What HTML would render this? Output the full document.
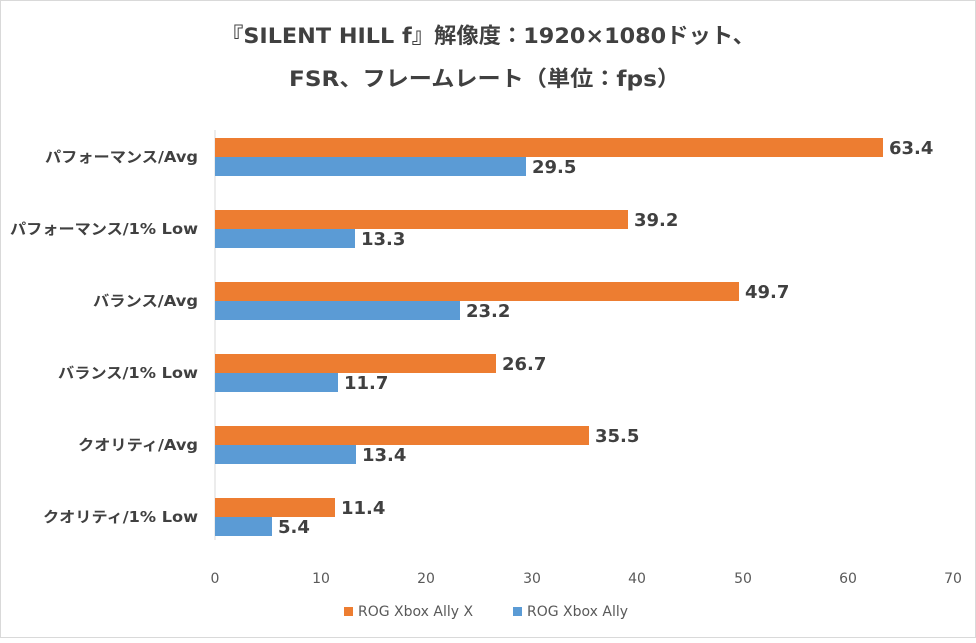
<!DOCTYPE html>
<html><head><meta charset="utf-8"><style>
body{margin:0;background:#fff;}
svg text{font-family:"DejaVu Sans","Noto Sans CJK JP",sans-serif;}
</style></head><body>
<svg width="976" height="638" viewBox="0 0 976 638" xmlns="http://www.w3.org/2000/svg">
<rect x="0.5" y="0.5" width="975" height="637" fill="#fff" stroke="#d9d9d9"/>
<text x="221" y="43" font-size="21.5" font-weight="bold" fill="#404040" textLength="534" lengthAdjust="spacingAndGlyphs">『SILENT HILL f』解像度：1920×1080ドット、</text>
<text x="289" y="86" font-size="21.5" font-weight="bold" fill="#404040" textLength="391" lengthAdjust="spacingAndGlyphs">FSR、フレームレート（単位：fps）</text>
<line x1="215" y1="130" x2="215" y2="540" stroke="#d9d9d9"/>
<g font-size="14" fill="#595959" text-anchor="middle">
<text x="215" y="583">0</text><text x="321" y="583">10</text><text x="426" y="583">20</text><text x="532" y="583">30</text><text x="637" y="583">40</text><text x="743" y="583">50</text><text x="848" y="583">60</text><text x="953" y="583">70</text>
</g>
<g font-size="15" font-weight="bold" fill="#404040">
<text x="45" y="162" textLength="153" lengthAdjust="spacingAndGlyphs">パフォーマンス/Avg</text>
<text x="10" y="234" textLength="188" lengthAdjust="spacingAndGlyphs">パフォーマンス/1% Low</text>
<text x="93" y="306" textLength="105" lengthAdjust="spacingAndGlyphs">バランス/Avg</text>
<text x="58" y="378" textLength="140" lengthAdjust="spacingAndGlyphs">バランス/1% Low</text>
<text x="78" y="450" textLength="120" lengthAdjust="spacingAndGlyphs">クオリティ/Avg</text>
<text x="43" y="522" textLength="155" lengthAdjust="spacingAndGlyphs">クオリティ/1% Low</text>
</g>
<g fill="#ed7d31">
<rect x="215" y="138" width="668" height="19"/>
<rect x="215" y="210" width="413" height="19"/>
<rect x="215" y="282" width="524" height="19"/>
<rect x="215" y="354" width="281" height="19"/>
<rect x="215" y="426" width="374" height="19"/>
<rect x="215" y="498" width="120" height="19"/>
</g>
<g fill="#5b9bd5">
<rect x="215" y="157" width="311" height="19"/>
<rect x="215" y="229" width="140" height="19"/>
<rect x="215" y="301" width="245" height="19"/>
<rect x="215" y="373" width="123" height="19"/>
<rect x="215" y="445" width="141" height="19"/>
<rect x="215" y="517" width="57" height="19"/>
</g>
<g font-size="18" font-weight="bold" fill="#404040">
<text x="889" y="154">63.4</text><text x="532" y="173">29.5</text>
<text x="634" y="226">39.2</text><text x="361" y="245">13.3</text>
<text x="745" y="298">49.7</text><text x="466" y="317">23.2</text>
<text x="502" y="370">26.7</text><text x="344" y="389">11.7</text>
<text x="595" y="442">35.5</text><text x="362" y="461">13.4</text>
<text x="341" y="514">11.4</text><text x="278" y="533">5.4</text>
</g>
<rect x="344" y="607" width="9" height="9" fill="#ed7d31"/>
<text x="358" y="616" font-size="14" fill="#595959">ROG Xbox Ally X</text>
<rect x="513" y="607" width="9" height="9" fill="#5b9bd5"/>
<text x="527" y="616" font-size="14" fill="#595959">ROG Xbox Ally</text>
</svg>
</body></html>
